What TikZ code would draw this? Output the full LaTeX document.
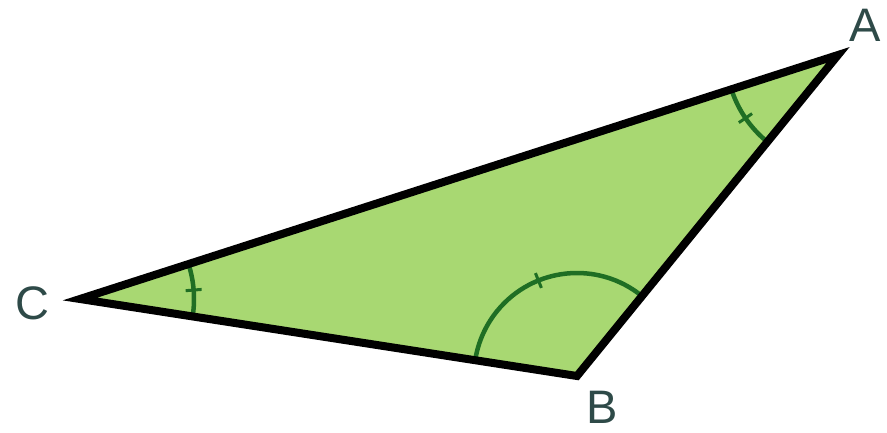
\documentclass[tikz,border=0pt]{standalone}
\usepackage{fontspec}
\setmainfont{Liberation Sans}
\usetikzlibrary{calc}
\definecolor{fillgreen}{HTML}{A8D872}
\definecolor{arcgreen}{HTML}{1F6E24}
\definecolor{labelcol}{HTML}{2E4A48}
\tikzset{
  side/.style={line width=8pt, line join=miter, draw=black},
  anglearc/.style={line width=4.5pt, draw=arcgreen},
  vlabel/.style={text=labelcol, font=\fontsize{47}{52}\selectfont, inner sep=0pt}
}
\begin{document}
\begin{tikzpicture}[x=1pt,y=1pt]
\useasboundingbox (0,0) rectangle (887,432);
\coordinate (A) at (838,377);
\coordinate (B) at (577,56);
\coordinate (C) at (80,133);
\fill[fillgreen] (A) -- (B) -- (C) -- cycle;
% angle arcs
\draw[anglearc] ($(B)+(50.9:103)$) arc[start angle=50.9, end angle=171.2, radius=103];
\draw[anglearc] ($(C)+(-8.8:114)$) arc[start angle=-8.8, end angle=17.8, radius=114];
\draw[anglearc] ($(A)+(197.8:112)$) arc[start angle=197.8, end angle=230.9, radius=112];
% ticks
\draw[anglearc, line width=3pt] ($(B)+(112:95)$) -- ($(B)+(112:111)$);
\draw[anglearc, line width=3pt] ($(C)+(4.5:106)$) -- ($(C)+(4.5:122)$);
\draw[anglearc, line width=3pt] ($(A)+(214.3:104)$) -- ($(A)+(214.3:120)$);
\draw[side] (A) -- (B) -- (C) -- cycle;
\node[vlabel] (la) at (865,407) {A};
\node[vlabel] (lb) at (602,25) {B};
\node[vlabel] (lc) at (32,129) {C};
\end{tikzpicture}
\end{document}
